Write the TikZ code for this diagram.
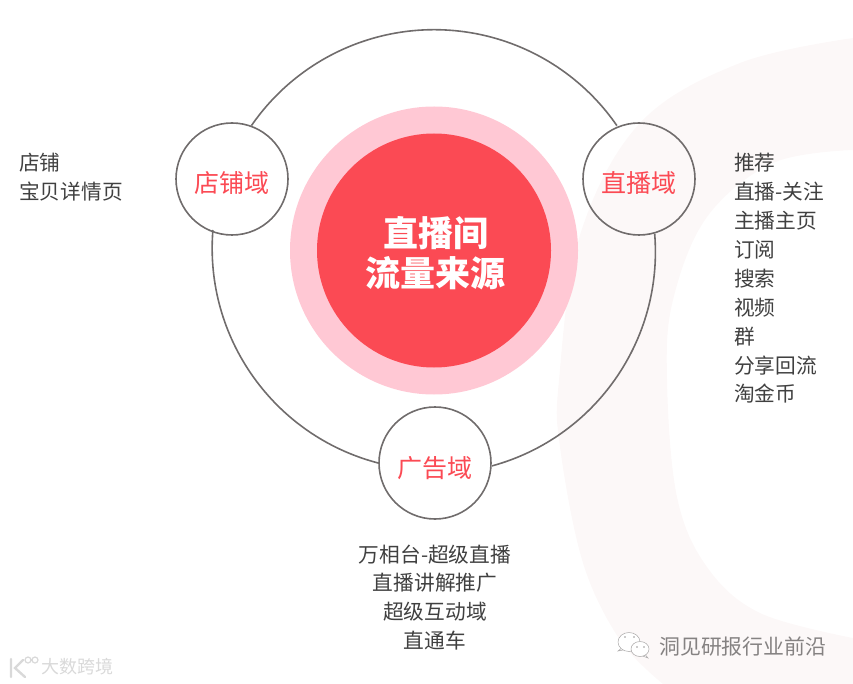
\documentclass[tikz,border=0pt]{standalone}
\usepackage{fontspec}
\usepackage{xcolor}
\setmainfont{Noto Sans CJK SC}
\usetikzlibrary{calc, positioning}
\definecolor{RedCore}{HTML}{FB4A54}
\definecolor{PinkRing}{HTML}{FFC8D4}
\definecolor{GreyLine}{HTML}{706C6C}
\definecolor{TextDark}{HTML}{404040}
\definecolor{SwooshTint}{HTML}{FCF8F8}

\begin{document}
\begin{tikzpicture}[
  x=1pt, y=-1pt,
  domainnode/.style={circle, draw=GreyLine, line width=1.6pt, minimum size=112pt, inner sep=0pt, text height=28pt, text depth=0pt, font=\fontsize{25}{30}\selectfont\color{RedCore}},
  orbit/.style={draw=GreyLine, line width=1.6pt},
  itemlist/.style={inner sep=0pt, font=\fontsize{20.7}{28.9}\selectfont\color{TextDark}},
  bubble/.style={draw=GreyLine!60, fill=white, line width=0.5pt}
]
  \useasboundingbox (0,0) rectangle (853,684);

  % backdrop band
  \fill[SwooshTint] plot[smooth, tension=0.6] coordinates {(853,38) (740,63) (640,123) (580,235) (559,380) (560,447) (583,563) (620,640) (663,684)}
    -- (853,684) -- (853,638)
    -- plot[smooth, tension=0.6] coordinates {(853,638) (760,613) (707,567) (677,497) (667,380) (673,300) (707,217) (773,163) (853,150)}
    -- cycle;

  % centre
  \node[circle, fill=PinkRing, minimum size=288pt, inner sep=0pt] (ring) at (434,250.5) {};
  \node[circle, fill=RedCore, minimum size=234pt, inner sep=0pt] (core) at (434,250.5) {};
  \node[inner sep=0pt, align=center, text=white, font=\fontsize{35}{40}\selectfont\bfseries] (title) at (435.5,253.5) {直播间\\流量来源};

  \node[domainnode] (shop) at (232,179) {店铺域};
  \node[domainnode] (live) at (639,179) {直播域};
  \node[domainnode] (ads) at (435,463) {广告域};

  % orbit pieces
  \draw[orbit] (shop.70) arc[start angle=145.4, end angle=34.6, radius=222pt];
  \draw[orbit] (live.-74) arc[start angle=4.7, end angle=-74.7, radius=222pt];
  \draw[orbit] (ads.180) arc[start angle=-104.6, end angle=-184.7, radius=222pt];

  % lists
  \node[itemlist, anchor=west, align=left] (shoplist) at (19,177.5) {店铺\\宝贝详情页};
  \node[itemlist, anchor=west, align=left] (livelist) at (734,278.5) {推荐\\直播-关注\\主播主页\\订阅\\搜索\\视频\\群\\分享回流\\淘金币};
  \node[itemlist, align=center] (adslist) at (435,597.5) {万相台-超级直播\\直播讲解推广\\超级互动域\\直通车};

  % watermarks
  \node[inner sep=0pt, anchor=west, text=GreyLine!85, font=\fontsize{20.9}{24}\selectfont] (wechat) at (659,647) {洞见研报行业前沿};
  \node[inner sep=0pt, anchor=west, text=black!15, font=\fontsize{18}{22}\selectfont] (brand) at (41,667) {大数跨境};
  \draw[bubble] (618,651) -- (623,647) -- (628,649) -- cycle;
  \draw[bubble] (629,642) ellipse[x radius=11pt, y radius=9.5pt];
  \draw[bubble] (648,658) -- (643,652) -- (640,655) -- cycle;
  \draw[bubble] (640,649) ellipse[x radius=9pt, y radius=7.5pt];
  \foreach \dotx/\doty in {625/637, 634/637, 637/647, 644/647}
    \fill[GreyLine!70] (\dotx,\doty) circle[radius=0.8pt];
  \draw[black!15, line width=2.4pt, line cap=round] (11,659) -- (11,677) (23,660) -- (15,668) -- (25,677);
  \draw[black!15, line width=1.2pt] (28,660) circle[radius=3pt] (35,660) circle[radius=3pt];
\end{tikzpicture}
\end{document}
